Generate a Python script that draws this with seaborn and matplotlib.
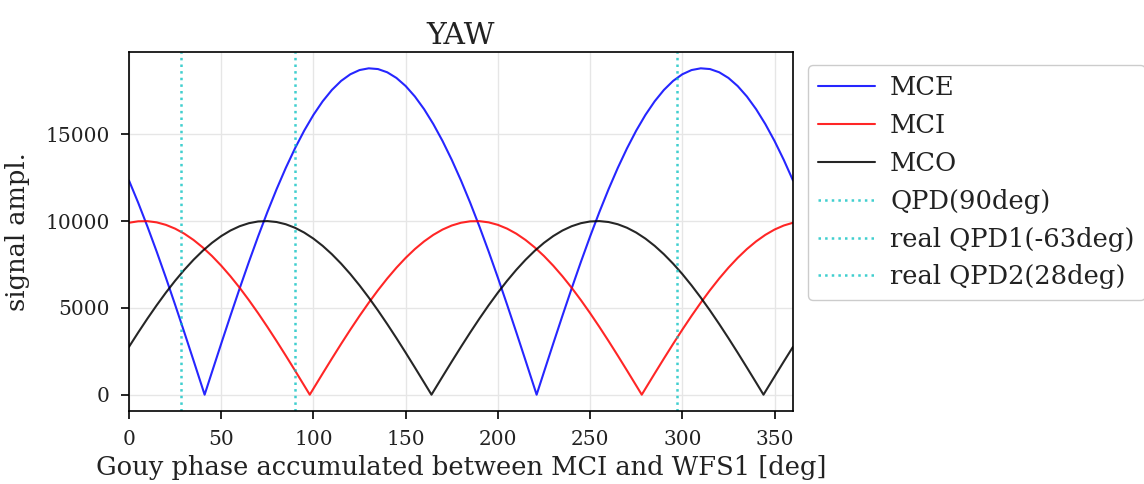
import matplotlib
matplotlib.use("Agg")
import matplotlib.pyplot as plt
import numpy as np
import pandas as pd
import seaborn as sns

# values (x in deg, signal amplitude)
mce_x = [0, 5, 10, 15, 20, 25, 30, 35, 40, 41, 45, 50, 55, 60, 65, 70, 75, 80, 85, 90,
         95, 100, 105, 110, 115, 120, 125, 130, 135, 140, 145, 150, 155, 160, 165, 170, 175, 180,
         185, 190, 195, 200, 205, 210, 215, 220, 221, 225, 230, 235, 240, 245, 250, 255, 260, 265,
         270, 275, 280, 285, 290, 295, 300, 305, 310, 315, 320, 325, 330, 335, 340, 345, 350, 355, 360]
mce_y = [12335, 11051, 9682, 8242, 6738, 5181, 3587, 1965, 328, 0, 1311, 2941, 4548, 6121, 7646,
         9114, 10513, 11831, 13060, 14188, 15209, 16115, 16897, 17551, 18072, 18454, 18697, 18797,
         18754, 18569, 18242, 17776, 17174, 16443, 15585, 14610, 13523, 12335, 11051, 9682, 8242,
         6738, 5181, 3587, 1965, 328, 0, 1311, 2941, 4548, 6121, 7646, 9114, 10513, 11831, 13060,
         14188, 15209, 16115, 16897, 17551, 18072, 18454, 18697, 18797, 18754, 18569, 18242, 17776,
         17174, 16443, 15585, 14610, 13523, 12335]

mci_x = [0, 5, 10, 15, 20, 25, 30, 35, 40, 45, 50, 55, 60, 65, 70, 75, 80, 85, 90, 95, 98,
         100, 105, 110, 115, 120, 125, 130, 135, 140, 145, 150, 155, 160, 165, 170, 175, 180,
         185, 190, 195, 200, 205, 210, 215, 220, 225, 230, 235, 240, 245, 250, 255, 260, 265,
         270, 275, 278, 280, 285, 290, 295, 300, 305, 310, 315, 320, 325, 330, 335, 340, 345, 350, 355, 360]
mci_y = [9903, 9986, 9994, 9925, 9781, 9563, 9272, 8910, 8480, 7986, 7431, 6820, 6157, 5446, 4695,
         3907, 3090, 2250, 1392, 523, 0, 349, 1219, 2079, 2924, 3746, 4540, 5299, 6018, 6691, 7314,
         7880, 8387, 8829, 9205, 9511, 9744, 9903, 9986, 9994, 9925, 9781, 9563, 9272, 8910, 8480,
         7986, 7431, 6820, 6157, 5446, 4695, 3907, 3090, 2250, 1392, 523, 0, 349, 1219, 2079, 2924,
         3746, 4540, 5299, 6018, 6691, 7314, 7880, 8387, 8829, 9205, 9511, 9744, 9903]

mco_x = [0, 5, 10, 15, 20, 25, 30, 35, 40, 45, 50, 55, 60, 65, 70, 75, 80, 85, 90, 95, 100,
         105, 110, 115, 120, 125, 130, 135, 140, 145, 150, 155, 160, 164, 165, 170, 175, 180,
         185, 190, 195, 200, 205, 210, 215, 220, 225, 230, 235, 240, 245, 250, 255, 260, 265,
         270, 275, 280, 285, 290, 295, 300, 305, 310, 315, 320, 325, 330, 335, 340, 344, 345, 350, 355, 360]
mco_y = [2756, 3584, 4384, 5150, 5878, 6561, 7193, 7771, 8290, 8746, 9135, 9455, 9703, 9877, 9976,
         9998, 9945, 9816, 9613, 9336, 8988, 8572, 8090, 7547, 6947, 6293, 5592, 4848, 4067, 3256,
         2419, 1564, 698, 0, 175, 1045, 1908, 2756, 3584, 4384, 5150, 5878, 6561, 7193, 7771, 8290,
         8746, 9135, 9455, 9703, 9877, 9976, 9998, 9945, 9816, 9613, 9336, 8988, 8572, 8090, 7547,
         6947, 6293, 5592, 4848, 4067, 3256, 2419, 1564, 698, 0, 175, 1045, 1908, 2756]

qpd_labels = ["QPD(90deg)", "real QPD1(-63deg)", "real QPD2(28deg)"]
qpd_pos = [90, 297, 28]

series = [("MCE", mce_x, mce_y, "blue"), ("MCI", mci_x, mci_y, "red"), ("MCO", mco_x, mco_y, "black")]

sns.set_theme(style="white")
plt.rcParams["font.family"] = ["DejaVu Serif"]

fig, ax = plt.subplots(figsize=(11.44, 4.84), dpi=100)
fig.subplots_adjust(left=129 / 1144, right=793 / 1144, bottom=1 - 411 / 484, top=1 - 52 / 484)

for name, xs, ys, col in series:
    df = pd.DataFrame({"x": xs, "y": ys})
    sns.lineplot(data=df, x="x", y="y", ax=ax, color=col, alpha=0.85, linewidth=1.5, label=name)

for lab, pos in zip(qpd_labels, qpd_pos):
    ax.axvline(pos, color="#00bfbf", alpha=0.75, linestyle=":", linewidth=1.8, label=lab)

ax.set_xlim(0, 360)
ax.set_xticks(np.arange(0, 361, 50))
ax.set_yticks(np.arange(0, 15001, 5000))
ax.grid(True, color="#e6e6e6", linewidth=1)
for sp in ax.spines.values():
    sp.set_color("black")
    sp.set_linewidth(1.2)
ax.tick_params(axis="both", which="major", labelsize=14.5, direction="out", length=6, width=1.2,
               pad=8, bottom=True, left=True, colors="black")
for t in ax.get_xticklabels() + ax.get_yticklabels():
    t.set_color("#222222")

ax.set_title("YAW", fontsize=21.5, color="#222222")
ax.set_xlabel("Gouy phase accumulated between MCI and WFS1 [deg]", fontsize=18.5, color="#222222")
ax.set_ylabel("signal ampl.", fontsize=18.5, color="#222222", labelpad=11)

leg = ax.legend(loc="upper left", bbox_to_anchor=(1.003, 1.0), fontsize=18.5, frameon=True,
                edgecolor="#cccccc", framealpha=1, handlelength=2.2, handletextpad=0.6)
for t in leg.get_texts():
    t.set_color("#222222")

fig.savefig("out.png", dpi=100)
